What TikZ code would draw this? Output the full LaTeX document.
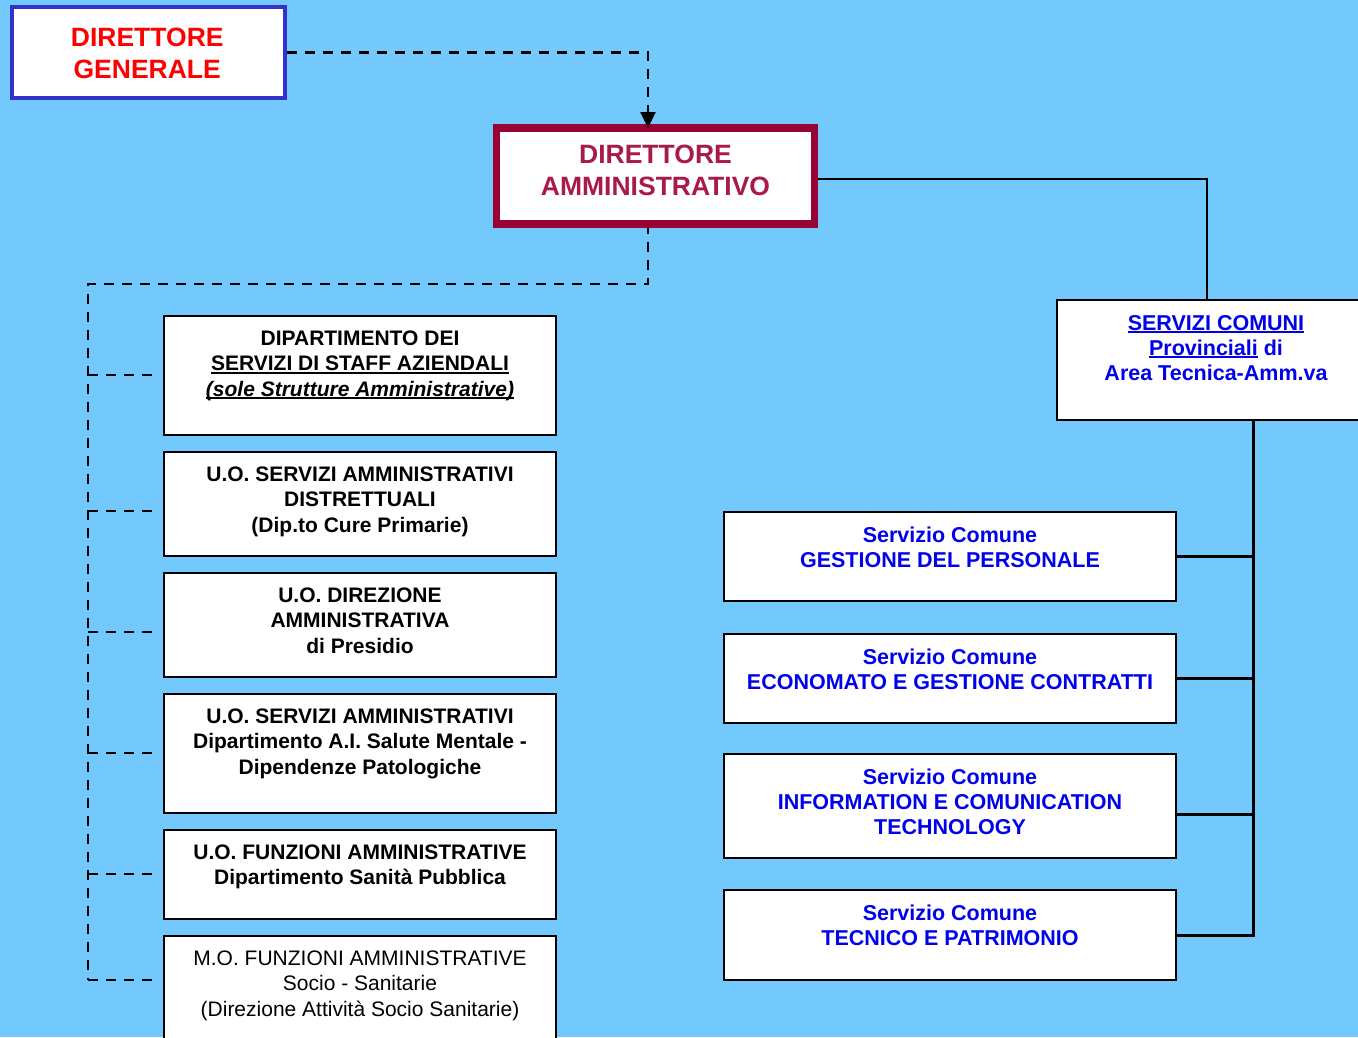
\documentclass[tikz,border=0pt]{standalone}
\usepackage{fontspec}
\setmainfont{Liberation Sans}
\usetikzlibrary{arrows.meta}
\pgfdeclarelayer{back}
\pgfdeclarelayer{conn}
\pgfsetlayers{back,conn,main}
\definecolor{bgblue}{RGB}{115,200,252}
\definecolor{dgblue}{RGB}{51,51,204}
\definecolor{dgred}{RGB}{255,0,0}
\definecolor{damaroon}{RGB}{153,0,51}
\definecolor{datext}{RGB}{170,25,75}
\definecolor{svcblue}{RGB}{0,0,235}
\newcommand{\mystrut}{\rule{0pt}{16pt}}
\newcommand{\mystrutB}{\rule{0pt}{20pt}}
\newcommand{\myul}[1]{\setbox0\hbox{#1}\rlap{\rule[-3.2pt]{\wd0}{2pt}}\box0\relax}
\begin{document}
\begin{tikzpicture}[x=1pt,y=-1pt,
  every node/.style={inner sep=0pt, outer sep=0pt},
  lbox/.style={draw=black, line width=2pt, fill=white, anchor=north west, minimum width=392pt},
  rbox/.style={draw=black, line width=2pt, fill=white, anchor=north west, minimum width=452pt},
  ltxt/.style={anchor=north, align=center, font=\fontsize{21}{25.5}\selectfont\bfseries},
  ltxtreg/.style={anchor=north, align=center, font=\fontsize{21}{25.5}\selectfont},
  rtxt/.style={anchor=north, align=center, text=svcblue, font=\fontsize{21.5}{25}\selectfont\bfseries},
  bigtxt/.style={anchor=north, align=center, font=\fontsize{26.5}{32}\selectfont\bfseries},
  dsh/.style={draw=black, line width=2.3pt, dash pattern=on 10pt off 8pt},
  sol/.style={draw=black, line width=2pt},
  solthick/.style={draw=black, line width=3pt, line cap=rect},
]
\useasboundingbox (0,0) rectangle (1358,1037);
\begin{pgfonlayer}{back}
\fill[bgblue] (0,0) rectangle (1358,1037);
\end{pgfonlayer}
\clip (0,0) rectangle (1358,1037);

% top boxes
\node[draw=dgblue, line width=4pt, fill=white, anchor=north west, minimum width=272.5pt, minimum height=91pt] (dg) at (12,7) {};
\node[bigtxt, text=dgred] (dgt) at ([xshift=-1pt,yshift=-19pt]dg.north) {\mystrutB DIRETTORE\\GENERALE};
\node[draw=damaroon, line width=7.5pt, fill=white, anchor=north west, minimum width=318pt, minimum height=96pt] (da) at (496.5,128) {};
\node[bigtxt, text=datext] (dat) at ([yshift=-15.3pt]da.north) {\mystrutB DIRETTORE\\AMMINISTRATIVO};

% left boxes
\node[lbox, minimum height=119pt] (b1) at (164,316) {};
\node[lbox, minimum height=104pt] (b2) at (164,452) {};
\node[lbox, minimum height=104pt] (b3) at (164,573) {};
\node[lbox, minimum height=119pt] (b4) at (164,694) {};
\node[lbox, minimum height=89pt] (b5) at (164,830) {};
\node[lbox, minimum height=150pt] (b6) at (164,936) {};
\node[ltxt] (t1) at ([yshift=-13pt]b1.north) {\mystrut DIPARTIMENTO DEI\\\myul{SERVIZI DI STAFF AZIENDALI}\\\myul{\textit{(sole Strutture Amministrative)}}};
\node[ltxt] (t2) at ([yshift=-13pt]b2.north) {\mystrut U.O. SERVIZI AMMINISTRATIVI\\DISTRETTUALI\\(Dip.to Cure Primarie)};
\node[ltxt] (t3) at ([yshift=-13pt]b3.north) {\mystrut U.O. DIREZIONE\\AMMINISTRATIVA\\di Presidio};
\node[ltxt] (t4) at ([yshift=-13pt]b4.north) {\mystrut U.O. SERVIZI AMMINISTRATIVI\\Dipartimento A.I. Salute Mentale -\\Dipendenze Patologiche};
\node[ltxt] (t5) at ([yshift=-13pt]b5.north) {\mystrut U.O. FUNZIONI AMMINISTRATIVE\\Dipartimento Sanità Pubblica};
\node[ltxtreg] (t6) at ([yshift=-13pt]b6.north) {\mystrut M.O. FUNZIONI AMMINISTRATIVE\\Socio - Sanitarie\\(Direzione Attività Socio Sanitarie)};

% right side
\node[draw=black, line width=2pt, fill=white, anchor=north west, minimum width=318pt, minimum height=120pt] (sc) at (1057,300) {};
\node[rtxt] (sct) at ([yshift=-14pt]sc.north) {\mystrut\myul{SERVIZI COMUNI}\\\myul{Provinciali} di\\Area Tecnica-Amm.va};
\node[rbox, minimum height=89pt] (r1) at (724,512) {};
\node[rbox, minimum height=89pt] (r2) at (724,634) {};
\node[rbox, minimum height=104pt] (r3) at (724,754) {};
\node[rbox, minimum height=90pt] (r4) at (724,890) {};
\node[rtxt] (r1t) at ([yshift=-14pt]r1.north) {\mystrut Servizio Comune\\GESTIONE DEL PERSONALE};
\node[rtxt] (r2t) at ([yshift=-14pt]r2.north) {\mystrut Servizio Comune\\ECONOMATO E GESTIONE CONTRATTI};
\node[rtxt] (r3t) at ([yshift=-14pt]r3.north) {\mystrut Servizio Comune\\INFORMATION E COMUNICATION\\TECHNOLOGY};
\node[rtxt] (r4t) at ([yshift=-14pt]r4.north) {\mystrut Servizio Comune\\TECNICO E PATRIMONIO};

% connectors
\coordinate (busT) at (88,284);
\coordinate (s1) at (88,375);
\coordinate (s2) at (88,511);
\coordinate (s3) at (88,632);
\coordinate (s4) at (88,753);
\coordinate (s5) at (88,874);
\coordinate (s6) at (88,980);
\coordinate (scx) at (1207,0);
\coordinate (vx) at (1253,0);
\draw[dsh, -{Triangle[length=16pt,width=15pt]}] ([xshift=2pt]dg.east) -| ([xshift=-7.5pt]da.north);
\begin{pgfonlayer}{conn}
\draw[dsh] ([xshift=-7.5pt]da.south) |- (busT) -- (s6);
\foreach \s/\b in {s1/b1,s2/b2,s3/b3,s4/b4,s5/b5,s6/b6}
  \draw[dsh, shorten >=9pt] (\s) -- (\s -| \b.west);
\draw[sol] ([yshift=-3pt]da.east) -| (sc.north -| scx);
\draw[solthick] (sc.south -| vx) -- (r4.east -| vx);
\draw[solthick] (r1.east) -- (r1.east -| vx);
\draw[solthick] (r2.east) -- (r2.east -| vx);
\path ([yshift=-8pt]r3.east) coordinate (c3);
\draw[solthick] (c3) -- (c3 -| vx);
\draw[solthick] (r4.east) -- (r4.east -| vx);
\end{pgfonlayer}
\end{tikzpicture}
\end{document}
